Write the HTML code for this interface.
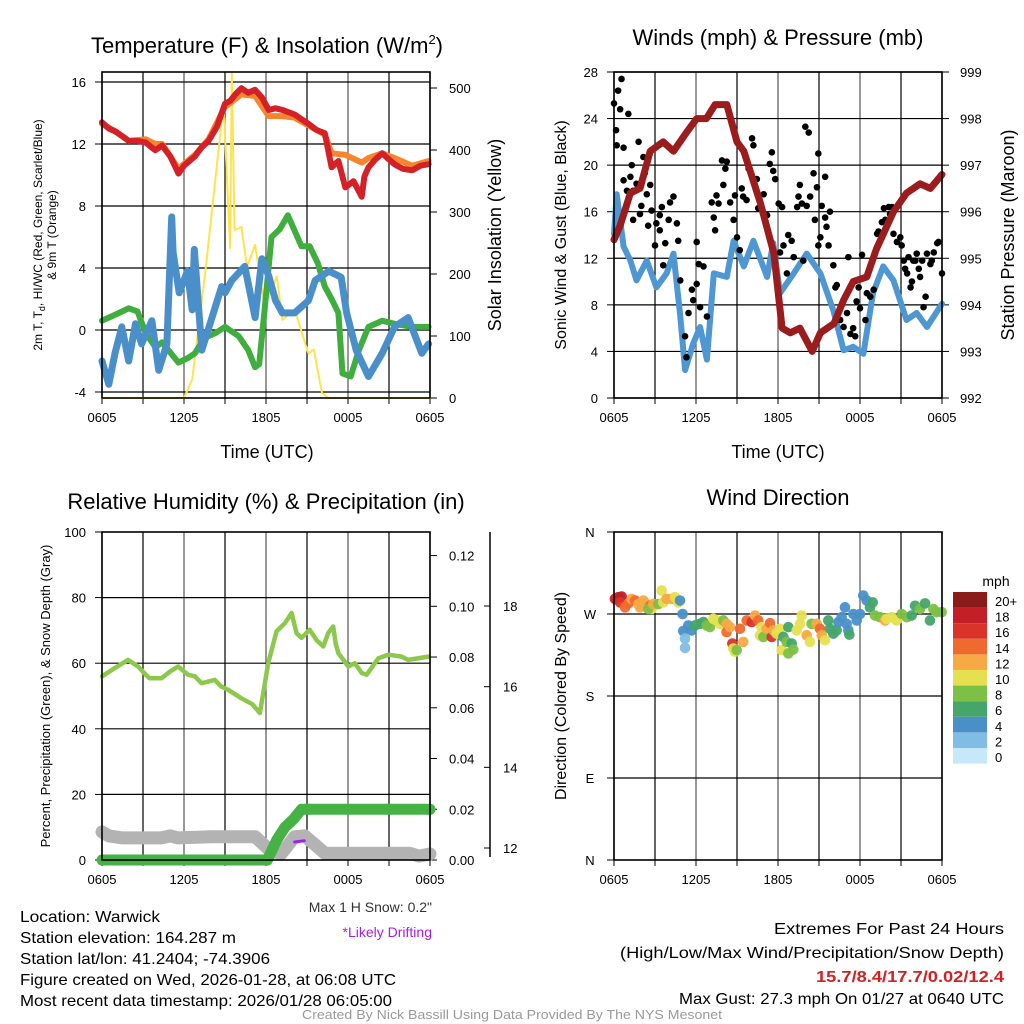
<!DOCTYPE html>
<html><head><meta charset="utf-8"><style>
html,body{margin:0;padding:0;background:#fff;}
svg{display:block;font-family:"Liberation Sans",Arial,sans-serif;}
</style></head><body>
<svg id="c" width="1024" height="1024" viewBox="0 0 1024 1024" xmlns="http://www.w3.org/2000/svg">
<rect width="1024" height="1024" fill="#fff"/>
<g id="p1"></g>
<g id="p2"></g>
<g id="p3"></g>
<g id="p4"></g>
<g id="txt">
<text x="267" y="53" font-size="22" text-anchor="middle">Temperature (F) &amp; Insolation (W/m<tspan font-size="13" dy="-9">2</tspan><tspan dy="9">)</tspan></text>
<text x="778" y="45" font-size="22" text-anchor="middle">Winds (mph) &amp; Pressure (mb)</text>
<text x="266" y="509" font-size="22" text-anchor="middle">Relative Humidity (%) &amp; Precipitation (in)</text>
<text x="778" y="505" font-size="22" text-anchor="middle">Wind Direction</text>
<text x="267" y="458" font-size="18" text-anchor="middle">Time (UTC)</text>
<text x="778" y="458" font-size="18" text-anchor="middle">Time (UTC)</text>
<text transform="translate(42,235) rotate(-90)" font-size="12" text-anchor="middle">2m T, T<tspan font-size="9" dy="3">d</tspan><tspan dy="-3">, HI/WC (Red, Green, Scarlet/Blue)</tspan></text>
<text transform="translate(56,235) rotate(-90)" font-size="12" text-anchor="middle">&amp; 9m T (Orange)</text>
<text transform="translate(501,235) rotate(-90)" font-size="18" text-anchor="middle">Solar Insolation (Yellow)</text>
<text transform="translate(566,235) rotate(-90)" font-size="16" text-anchor="middle">Sonic Wind &amp; Gust (Blue, Black)</text>
<text transform="translate(1014,235) rotate(-90)" font-size="18" text-anchor="middle">Station Pressure (Maroon)</text>
<text transform="translate(50,696) rotate(-90)" font-size="13" text-anchor="middle">Percent, Precipitation (Green), &amp; Snow Depth (Gray)</text>
<text transform="translate(566,696) rotate(-90)" font-size="16" text-anchor="middle">Direction (Colored By Speed)</text>
<text x="996" y="586" font-size="14" text-anchor="middle">mph</text>
<text x="432" y="912" font-size="14" text-anchor="end" fill="#333">Max 1 H Snow: 0.2"</text>
<text x="432" y="937" font-size="14" text-anchor="end" fill="#a020f0">*Likely Drifting</text>
<g font-size="16">
<text x="20" y="922" textLength="140" lengthAdjust="spacingAndGlyphs">Location: Warwick</text>
<text x="20" y="943" textLength="216" lengthAdjust="spacingAndGlyphs">Station elevation: 164.287 m</text>
<text x="20" y="964" textLength="250" lengthAdjust="spacingAndGlyphs">Station lat/lon: 41.2404; -74.3906</text>
<text x="20" y="985" textLength="376" lengthAdjust="spacingAndGlyphs">Figure created on Wed, 2026-01-28, at 06:08 UTC</text>
<text x="20" y="1006" textLength="372" lengthAdjust="spacingAndGlyphs">Most recent data timestamp: 2026/01/28 06:05:00</text>
</g>
<g font-size="16">
<text x="774" y="934" textLength="230" lengthAdjust="spacingAndGlyphs">Extremes For Past 24 Hours</text>
<text x="620" y="958" textLength="384" lengthAdjust="spacingAndGlyphs">(High/Low/Max Wind/Precipitation/Snow Depth)</text>
<text x="816" y="982" fill="#d42020" font-weight="bold" textLength="188" lengthAdjust="spacingAndGlyphs">15.7/8.4/17.7/0.02/12.4</text>
<text x="679" y="1004" textLength="325" lengthAdjust="spacingAndGlyphs">Max Gust: 27.3 mph On 01/27 at 0640 UTC</text>
</g>
<text x="512" y="1019" font-size="13" text-anchor="middle" fill="#999" textLength="420" lengthAdjust="spacingAndGlyphs">Created By Nick Bassill Using Data Provided By The NYS Mesonet</text>
</g>
</svg>
<script>
// ---- data ----
const xTickLabels = ["0605","1205","1805","0005","0605"];
const tempTicks = [16,12,8,4,0,-4];
const solarTicks = [500,400,300,200,100,0];
const windTicks = [28,24,20,16,12,8,4,0];
const presTicks = [999,998,997,996,995,994,993,992];
const rhTicks = [100,80,60,40,20,0];
const precipTicks = ["0.00","0.02","0.04","0.06","0.08","0.10","0.12"];
const snowTicks = [12,14,16,18];
const dirLabels = ["N","W","S","E","N"];
const dirTickVals = [360,270,180,90,0];
const speedLabels = ["20+","18","16","14","12","10","8","6","4","2","0"];

const redH = [0,0.5,1.0,1.5,1.95,2.6,3.2,3.6,3.9,4.4,5.0,5.6,6.0,6.8,7.3,7.8,8.4,9.0,9.4,9.75,10.2,10.7,11.2,11.7,12.2,12.7,13.2,14.1,14.6,15.1,15.7,16.3,16.8,17.3,17.8,18.4,19.0,19.2,19.5,20.0,20.5,21.0,21.4,22.0,22.7,23.3,23.9];
const redV = [13.4,13.0,12.8,12.5,12.2,12.2,12.1,11.8,11.6,11.9,11.2,10.1,10.6,11.2,11.8,12.2,13.1,14.6,14.8,15.2,15.6,15.3,15.5,15.0,14.2,14.3,14.2,13.9,13.6,13.3,12.9,12.7,10.5,10.9,9.2,9.6,8.6,9.9,10.5,11.0,11.4,11.0,10.7,10.4,10.3,10.6,10.7];
const orangeH = [0,1.0,1.95,3.2,3.9,4.4,5.6,6.8,7.8,9.0,9.75,10.2,11.2,12.2,13.2,14.1,15.1,16.3,16.8,17.8,19.0,19.5,20.5,21.4,22.7,23.9];
const orangeV = [13.3,12.8,12.2,12.3,12.0,12.0,10.4,11.3,12.3,14.4,14.9,15.2,15.1,13.8,13.8,13.7,13.2,12.6,11.4,11.3,10.8,11.1,11.4,11.1,10.6,10.9];
const greenH = [0,1.0,1.95,2.6,3.2,3.9,4.4,5.6,6.3,6.8,7.5,8.3,9.0,10.0,10.7,11.2,11.5,11.9,12.4,13.0,13.6,14.0,14.6,15.2,15.8,16.3,16.8,17.3,17.6,18.2,18.8,19.5,20.5,21.4,22.7,23.9];
const greenV = [0.6,1.0,1.4,1.2,-0.2,-1.1,-0.8,-2.1,-1.8,-1.5,-0.5,-0.2,0.2,-0.4,-1.3,-2.4,-2.2,1.3,6.0,6.5,7.4,6.6,5.4,5.4,4.3,2.8,2.0,1.1,-2.8,-3.0,-1.3,0.2,0.6,0.4,0.2,0.2];
const blueH = [0,0.5,0.95,1.45,1.95,2.45,2.9,3.65,4.15,4.75,5.1,5.2,5.65,6.25,6.6,6.75,7.3,8.05,8.75,9.0,9.5,10.45,11.2,11.7,12.2,12.7,13.2,14.1,15.1,15.6,16.6,17.5,17.9,18.6,19.5,20.5,21.4,22.4,23.4,23.9];
const blueV = [-2.0,-3.5,-1.5,0.2,-2.0,0.4,-0.9,0.6,-2.6,-0.9,7.3,5.0,2.4,3.8,1.3,5.2,-1.3,0.8,2.8,2.4,3.2,4.1,0.8,4.6,3.5,1.9,1.1,1.1,1.9,3.2,3.8,3.4,1.1,-1.3,-3.0,-1.5,0.2,0.8,-1.5,-0.9];
const solarH = [0,6.0,6.6,7.6,8.9,9.25,9.37,9.5,9.7,10.2,10.6,11.2,11.9,12.8,13.2,14.1,15.1,15.5,16.1,16.6,24];
const solarV = [0,0,30,212,475,303,242,526,271,276,212,247,148,196,126,142,72,78,8,0,0];

const presH = [0,0.45,1.2,1.9,2.65,3.6,4.35,5.3,6.05,6.75,7.4,8.25,9.0,9.5,10.7,11.7,12.3,12.9,13.6,14.5,15.1,16.1,16.8,17.5,18.5,19.2,20.45,21.4,22.4,23.15,24];
const presV = [995.4,995.7,996.4,996.5,997.3,997.5,997.3,997.7,998.0,998.0,998.3,998.3,997.5,997.3,996.2,995.1,993.5,993.4,993.5,993.0,993.4,993.6,994.1,994.5,994.6,995.2,996.0,996.4,996.6,996.5,996.8];
const windH = [0,0.2,0.7,1.2,1.65,2.4,3.1,3.85,4.35,4.85,5.2,5.8,6.3,6.8,7.3,8.25,8.75,9.5,10.2,11.2,11.65,12.15,13.15,14.1,15.1,16.05,16.8,17.5,18.25,18.95,19.7,20.45,21.4,22.15,22.9,24];
const windV = [14.1,17.5,13.0,11.8,10.1,11.8,9.5,10.7,12.4,7.0,2.4,4.7,6.1,3.3,10.7,10.4,13.5,11.3,13.5,10.4,13.3,9.0,10.7,12.4,10.7,7.5,4.1,4.4,3.8,9.0,11.3,10.1,6.7,7.3,6.1,8.1];
const gustH = [0,0.15,0.3,0.55,0.45,1.05,0.2,0.7,1.3,1.2,0.95,1.4,0.7,1.65,2.15,1.8,2.25,2.0,2.4,1.4,1.9,2.65,2.75,2.5,3.0,3.1,3.35,3.5,3.35,3.75,4.0,4.1,4.35,4.6,4.7,3.6,4.85,5.2,5.3,5.45,5.7,5.8,6.05,6.05,6.2,6.3,6.55,6.8,7.15,7.3,7.4,7.5,7.65,7.9,8.15,8.0,8.25,8.5,8.75,8.85,9.0,9.2,9.35,9.45,9.7,9.85,10.1,10.2,10.45,10.55,10.95,11.2,11.4,11.55,11.65,11.8,12.05,12.3,12.15,12.4,12.65,12.75,13.0,13.15,13.4,13.5,13.6,13.75,13.85,14.0,14.1,14.25,14.35,14.6,14.7,14.85,14.95,14.95,15.1,15.2,15.45,15.45,15.55,15.7,15.8,16.05,16.2,16.3,16.55,16.8,17.05,17.15,17.3,17.5,17.65,17.75,17.9,18.0,18.15,18.4,18.5,18.75,19.0,19.25,19.35,19.6,19.75,19.85,20.1,20.2,20.35,20.45,20.7,20.95,21.05,21.2,21.3,21.45,21.55,21.7,21.8,21.9,22.05,22.15,22.3,22.4,22.55,22.65,22.8,22.9,23.15,23.25,23.4,23.65,23.75,24.0];
const gustV = [25.3,23.0,26.4,27.4,24.8,24.4,21.7,21.5,20.0,19.0,17.8,17.8,18.7,18.4,20.7,22.0,19.3,16.5,17.5,15.3,15.8,18.3,16.1,14.8,13.1,15.0,15.7,16.4,14.4,13.3,15.3,16.8,17.3,15.0,13.5,11.4,10.1,5.3,3.5,7.3,9.3,8.4,13.4,9.8,11.5,7.8,11.3,7.0,16.8,15.5,14.4,17.4,16.7,20.4,19.7,18.3,20.3,16.8,15.3,17.4,13.8,12.7,18.0,17.3,17.0,19.7,22.3,21.7,18.8,16.3,17.5,15.7,20.1,21.1,19.5,18.8,16.7,16.4,12.5,13.1,10.7,14.0,13.5,12.1,16.4,17.3,18.3,16.7,11.8,23.3,16.5,22.8,17.3,19.3,15.3,18.1,21.0,13.1,13.8,16.5,19.0,15.5,14.7,13.1,16.0,11.4,9.5,9.7,6.7,6.1,7.3,12.1,5.5,6.0,5.3,8.3,9.5,7.7,12.3,6.7,9.0,8.7,9.3,14.1,14.3,15.1,16.3,15.3,16.4,15.8,16.4,14.1,13.4,13.8,13.1,11.8,11.1,10.7,12.1,9.5,10.0,11.8,11.8,12.4,11.1,10.4,11.8,7.8,8.7,12.4,11.5,11.8,12.5,13.3,13.4,10.7];

const rhH = [0,0.93,1.9,2.64,3.2,3.49,4.35,5.0,5.57,6.3,6.8,7.28,8.25,8.7,9.23,10.2,11.0,11.55,12.16,12.77,13.38,13.87,14.23,14.6,15.2,15.7,16.19,16.55,16.92,17.1,17.29,18.02,18.5,19.0,19.37,20.22,20.95,21.93,22.4,23.88];
const rhV = [56,58.5,61,59,56.5,55.4,55.4,57.5,59,56.5,56,53.9,54.9,53,51.9,49.3,47.5,44.8,60,69.7,72.2,75.3,69.2,67.7,70.2,67,65.1,69.2,71.2,66,63.1,59,60,57,56.5,61.5,62.6,62,61,62];
const precipH = [0,12.1,12.8,13.4,14.0,14.6,24];
const precipV = [0,0,0.008,0.013,0.016,0.02,0.02];
const snowH = [0,0.5,1.5,4.35,5.0,5.57,8.0,11.2,12.16,13.1,14.1,14.84,16.3,20.0,22.5,23.2,24];
const snowV = [12.4,12.3,12.25,12.25,12.3,12.25,12.28,12.28,11.98,11.85,12.28,12.3,11.87,11.87,11.87,11.8,11.85];
const driftH = [14.1,14.8];
const driftV = [12.15,12.18];

const dirH = [0.07,0.32,0.56,0.44,1.05,0.81,1.29,1.54,1.78,1.90,2.15,2.39,2.64,2.76,2.51,2.88,3.24,3.49,3.61,3.85,4.22,4.46,4.71,4.83,5.02,5.07,5.20,5.20,5.44,5.68,5.93,6.29,6.54,6.78,7.02,7.27,7.51,7.76,8.0,8.24,8.24,8.49,8.66,8.73,8.85,8.98,9.22,9.46,9.71,10.07,10.32,10.56,10.8,10.68,10.93,11.17,11.42,11.54,11.66,11.9,12.15,12.39,12.27,12.63,12.76,13.0,13.12,12.76,13.37,13.61,13.73,14.1,14.34,14.46,14.83,15.07,15.2,15.44,15.68,15.8,16.05,16.29,16.42,16.66,16.9,17.02,17.15,17.22,17.51,17.76,18.0,18.24,18.49,18.73,18.93,19.1,19.46,19.83,19.95,20.32,20.68,21.05,21.42,21.78,22.03,22.39,22.76,23.12,23.37,23.61,23.98];
const dirV = [286.6,288.5,289.2,282.7,281.6,277.3,286.6,284.8,280.9,277.3,284.8,280.9,279,275.5,275.5,280.9,280.9,295.8,282.7,286.6,286.6,288.5,282.7,284.8,270,251.3,243,232.8,257.4,252,257.4,259.2,261.1,257.4,255.6,264.7,262.9,259.2,262.9,259.2,250.2,255.6,237.6,232.1,228.5,230.3,253.8,239.4,262.9,261.1,268.3,262.9,255.6,246.6,244.8,253.8,260,244.8,252,248.4,253.8,244.8,230.3,239.4,226.7,237.6,231,255.6,252,259.2,268.3,246.6,239.4,259.2,259.2,253.8,246.6,241.2,262.9,253.8,248.4,252,261.1,266.5,277.3,259.2,252,247.3,270,262.9,270,290.3,284.8,277.3,282.7,268.3,266.5,262.9,264.7,266.5,262.9,270,266.5,268.3,279,275.5,281.6,262.9,275.5,272,272];
const dirS = [17,18,17,16,14,13,12,13,11,12,12,12,13,10,8,11,8,10,10,11,12,10,9,4,3,3,2,2,4,4,5,6,6,7,8,10,10,9,8,12,13,12,15,10,9,8,13,12,13,16,11,14,10,9,8,11,13,15,12,10,9,6,10,7,7,6,7,6,10,10,10,12,10,8,11,13,12,10,5,5,6,5,4,4,4,4,4,6,4,4,4,4,4,6,6,7,8,12,10,9,10,8,7,6,6,7,6,6,8,8,7];

// ---- helpers ----
const NS = "http://www.w3.org/2000/svg";
function mk(parent, tag, attrs, text){
  const e = document.createElementNS(NS, tag);
  for (const k in attrs) e.setAttribute(k, attrs[k]);
  if (text !== undefined) e.textContent = text;
  parent.appendChild(e);
  return e;
}
function pathD(hs, vs, X, Y){
  let d = "";
  for (let i=0;i<hs.length;i++){ d += (i?"L":"M") + X(hs[i]).toFixed(1) + "," + Y(vs[i]).toFixed(1); }
  return d;
}
const X1 = h => 102 + h*328/24;
const X2 = h => 614 + h*328/24;
const Yt = v => 330 - v*15.5;
const Ys = w => 398 - w*0.62;
const Yw = w => 398 - w*11.643;
const Yp = p => 398 - (p-992)*46.57;
const Yrh = r => 860 - r*3.28;
const Ypr = p => 860 - p*2537;
const Ysn = s => 848 - (s-12)*40.33;
const Yd = d => 860 - d*0.9111;

function frame(g, x0, y0, x1, y1, hLines){
  for (let i=0;i<=8;i++){
    const x = x0 + i*(x1-x0)/8;
    const l = mk(g,"line",{x1:x,y1:y0,x2:x,y2:y1,stroke:(i%2? "#000":"#555"),"stroke-width":1.2});
    
    
    const t = mk(g,"line",{x1:x,y1:y1,x2:x,y2:y1+6,stroke:"#000","stroke-width":1});
    
    
  }
  hLines.forEach(y=>{
    const l = mk(g,"line",{x1:x0,y1:y,x2:x1,y2:y,stroke:"#000","stroke-width":1.2});
    
    
  });
  xTickLabels.forEach((s,i)=>{
    const t = mk(g,"text",{x:x0+i*(x1-x0)/4,y:y1+24,"font-size":13,"text-anchor":"middle"},s);
    
    
  });
}
function border(g,x0,y0,x1,y1){
  const r = mk(g,"rect",{x:x0,y:y0,width:x1-x0,height:y1-y0,fill:"none",stroke:"#000","stroke-width":1.6});
  
  
}
function yLabels(g, vals, Y, x, anchor, fmt){
  vals.forEach(v=>{
    const t = mk(g,"text",{x:x,y:Y(v)+5,"font-size":13,"text-anchor":anchor}, fmt?fmt(v):String(v));
    
    
  });
}
function ticks(g, vals, Y, x, len){
  vals.forEach(v=>{
    const t = mk(g,"line",{x1:x,y1:Y(v),x2:x+len,y2:Y(v),stroke:"#000","stroke-width":1});
    
    
  });
}
function series(g, hs, vs, X, Y, color, w, name){
  const p = mk(g,"path",{d:pathD(hs,vs,X,Y),fill:"none",stroke:color,"stroke-width":w,"stroke-linejoin":"round","stroke-linecap":"round"});
  
  
}

// ---- panel 1 ----
const p1 = document.getElementById('p1');
frame(p1,102,72,430,398,tempTicks.map(Yt));
ticks(p1,tempTicks,Yt,95,7);
yLabels(p1,tempTicks,Yt,86,"end");
ticks(p1,solarTicks,Ys,430,7);
yLabels(p1,solarTicks,Ys,449,"start");
series(p1,solarH,solarV,X1,Ys,"#ffe34d",2,"solar-insolation-line");
series(p1,greenH,greenV,X1,Yt,"#3fae3f",6,"dewpoint-line");
series(p1,blueH,blueV,X1,Yt,"#4a8fca",7,"wind-chill-line");
series(p1,orangeH,orangeV,X1,Yt,"#f5862e",6,"temp-9m-line");
series(p1,redH,redV,X1,Yt,"#d42027",6,"temp-2m-line");
border(p1,102,72,430,398);

// ---- panel 2 ----
const p2 = document.getElementById('p2');
frame(p2,614,72,942,398,windTicks.map(Yw));
ticks(p2,windTicks,Yw,607,7);
yLabels(p2,windTicks,Yw,598,"end");
ticks(p2,presTicks,Yp,942,7);
yLabels(p2,presTicks,Yp,960,"start");
series(p2,windH,windV,X2,Yw,"#4f97d2",6,"sonic-wind-line");
gustH.forEach((h,i)=>{
  const c = mk(p2,"circle",{cx:X2(h),cy:Yw(gustV[i]),r:3.3,fill:"#000"});
  
  
});
series(p2,presH,presV,X2,Yp,"#9b1c1c",7,"pressure-line");
border(p2,614,72,942,398);

// ---- panel 3 ----
const p3 = document.getElementById('p3');
frame(p3,102,532,430,860,[20,40,60,80].map(Yrh));
ticks(p3,rhTicks,Yrh,95,7);
yLabels(p3,rhTicks,Yrh,86,"end");
ticks(p3,precipTicks.map(Number),Ypr,430,7);
precipTicks.forEach(s=>{
  const t = mk(p3,"text",{x:449,y:Ypr(Number(s))+5,"font-size":13},s);
  
  
});
const ax3 = mk(p3,"line",{x1:490,y1:532,x2:490,y2:857,stroke:"#000","stroke-width":1.5});


ticks(p3,snowTicks,Ysn,484,6);
yLabels(p3,snowTicks,Ysn,503,"start");
series(p3,snowH,snowV,X1,Ysn,"#b3b3b3",13,"snow-depth-line");
series(p3,rhH,rhV,X1,Yrh,"#8cc84b",4.5,"relative-humidity-line");
series(p3,precipH,precipV,X1,Ypr,"#44b244",11,"precipitation-line");
series(p3,driftH,driftV,X1,Ysn,"#a020f0",3,"likely-drifting-marker");
border(p3,102,532,430,860);

// ---- panel 4 ----
const p4 = document.getElementById('p4');
frame(p4,614,532,942,860,[270,180,90].map(Yd));
ticks(p4,dirTickVals,Yd,607,7);
dirLabels.forEach((s,i)=>{
  const t = mk(p4,"text",{x:590,y:Yd(dirTickVals[i])+5,"font-size":13,"text-anchor":"middle"},s);
  
  
});
const speedColors = ["#8b1a1a","#c21f28","#d9342a","#ef6a2e","#f7a945","#e6e050","#7cc045","#45a56a","#4a90c8","#7fbde6","#c6e8f8"];
function colorFor(s){ const idx = 10 - Math.min(10, Math.round(s/2)); return speedColors[idx]; }
dirH.forEach((h,i)=>{
  const c = mk(p4,"circle",{cx:X2(h),cy:Yd(dirV[i]),r:5.3,fill:colorFor(dirS[i]),"fill-opacity":0.95});
  
  
});
border(p4,614,532,942,860);
speedLabels.forEach((s,i)=>{
  const r = mk(p4,"rect",{x:953,y:592+i*15.6,width:34,height:15.6,fill:speedColors[i]});
  
  
  const t = mk(p4,"text",{x:995,y:592+i*15.6+14,"font-size":13},s);
  
  
});
</script>
</body></html>
